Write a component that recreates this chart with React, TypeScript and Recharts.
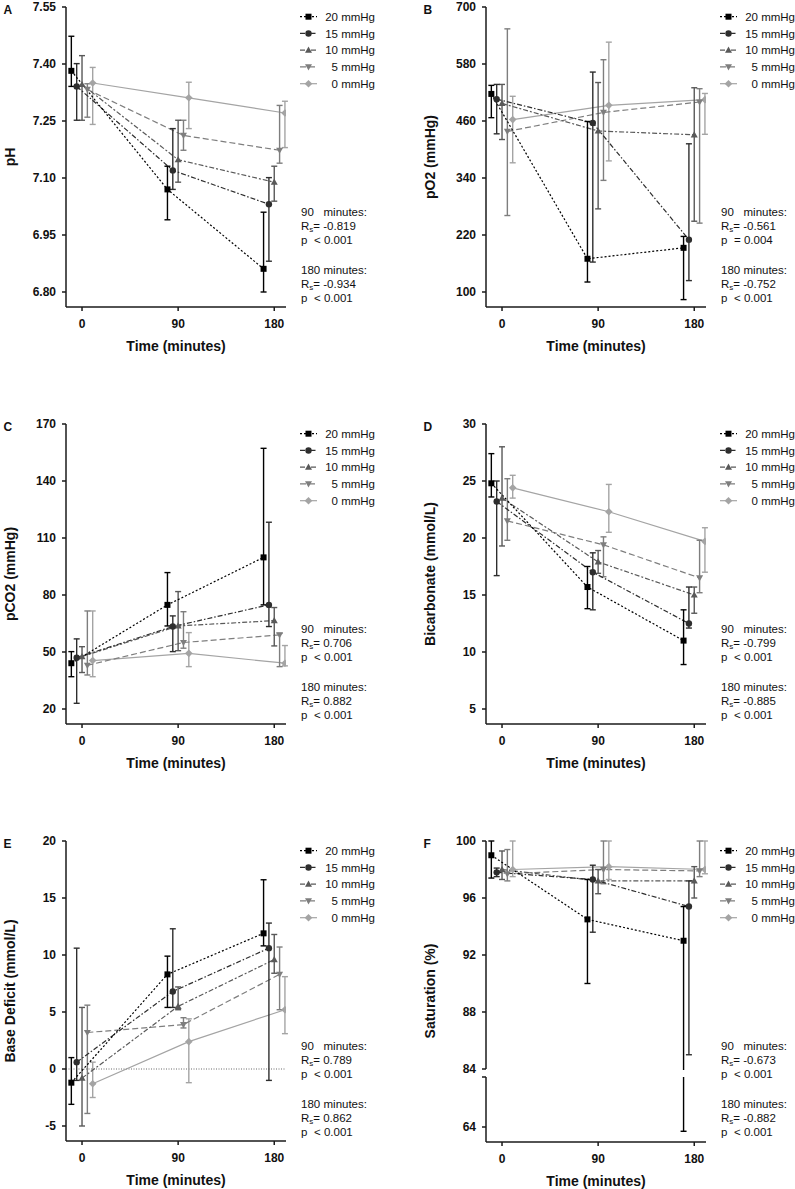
import React from 'react';
import { ComposedChart, Line, XAxis, YAxis, ErrorBar, ReferenceLine } from 'recharts';

const times = [0, 90, 180];
const groups = ['20 mmHg', '15 mmHg', '10 mmHg', '5 mmHg', '0 mmHg'];

// rows: 20, 15, 10, 5, 0 mmHg; columns: 0, 90, 180 minutes
const phMean = [
  [7.382, 7.07, 6.861],
  [7.341, 7.12, 7.031],
  [7.346, 7.148, 7.089],
  [7.333, 7.212, 7.173],
  [7.35, 7.311, 7.271],
];
const phLow = [
  [7.341, 6.99, 6.8],
  [7.252, 7.07, 6.881],
  [7.252, 7.089, 7.039],
  [7.26, 7.173, 7.139],
  [7.241, 7.23, 7.18],
];
const phHigh = [
  [7.473, 7.131, 7.01],
  [7.401, 7.23, 7.101],
  [7.422, 7.252, 7.131],
  [7.348, 7.252, 7.291],
  [7.391, 7.352, 7.302],
];

const po2Mean = [
  [517, 170, 193],
  [506, 456, 210],
  [497, 439, 431],
  [438, 478, 500],
  [463, 493, 505],
];
const po2Low = [
  [467, 121, 84],
  [433, 163, 124],
  [421, 275, 249],
  [261, 335, 245],
  [372, 376, 432],
];
const po2High = [
  [535, 459, 217],
  [537, 563, 412],
  [537, 541, 530],
  [654, 589, 528],
  [512, 626, 518],
];

const pco2Mean = [
  [44.1, 74.8, 99.8],
  [47.0, 63.4, 74.8],
  [47.6, 63.7, 66.5],
  [43.0, 55.0, 59.0],
  [45.5, 49.3, 44.1],
];
const pco2Low = [
  [37.0, 63.7, 74.8],
  [23.0, 50.2, 63.4],
  [39.2, 50.7, 53.2],
  [37.9, 52.0, 42.3],
  [37.0, 42.3, 42.7],
];
const pco2High = [
  [50.2, 91.8, 157.2],
  [56.9, 69.0, 118.3],
  [52.8, 81.8, 73.4],
  [71.6, 71.2, 59.8],
  [71.6, 60.2, 53.4],
];

const bicMean = [
  [24.8, 15.7, 11.0],
  [23.2, 17.0, 12.5],
  [23.5, 17.9, 15.0],
  [21.5, 19.4, 16.5],
  [24.4, 22.3, 19.7],
];
const bicLow = [
  [23.6, 13.8, 8.9],
  [16.7, 13.7, 12.1],
  [19.3, 16.9, 13.4],
  [19.8, 16.6, 15.2],
  [23.5, 20.5, 17.0],
];
const bicHigh = [
  [27.4, 17.5, 13.7],
  [25.0, 18.7, 15.7],
  [28.0, 18.9, 15.7],
  [25.2, 20.1, 19.8],
  [25.5, 24.7, 20.9],
];

const bdMean = [
  [-1.2, 8.3, 11.9],
  [0.6, 6.8, 10.6],
  [-0.8, 5.5, 9.6],
  [3.2, 3.9, 8.3],
  [-1.3, 2.4, 5.2],
];
const bdLow = [
  [-3.1, 5.4, 10.8],
  [-1.0, 5.4, -1.0],
  [-5.0, 5.2, 8.4],
  [-3.9, 3.6, 5.2],
  [-2.5, -1.2, 3.1],
];
const bdHigh = [
  [1.0, 9.9, 16.6],
  [10.6, 12.3, 12.8],
  [5.4, 7.2, 11.8],
  [5.6, 4.5, 10.7],
  [0.6, 4.4, 8.1],
];

const satMean = [
  [99.0, 94.5, 93.0],
  [97.8, 97.3, 95.4],
  [98.0, 97.2, 97.2],
  [97.7, 98.0, 97.9],
  [98.0, 98.2, 98.0],
];
const satLow = [
  [97.4, 90.0, 63.7],
  [97.5, 93.6, 85.0],
  [97.3, 96.3, 96.0],
  [97.2, 97.0, 97.5],
  [97.5, 97.3, 97.7],
];
const satHigh = [
  [100, 97.3, 95.4],
  [98.1, 98.3, 97.2],
  [99.3, 98.0, 98.2],
  [99.4, 100, 100],
  [100, 100, 100],
];

const phTicks = [6.8, 6.95, 7.1, 7.25, 7.4, 7.55];
const po2Ticks = [100, 220, 340, 460, 580, 700];
const pco2Ticks = [20, 50, 80, 110, 140, 170];
const bicTicks = [5, 10, 15, 20, 25, 30];
const bdTicks = [-5, 0, 5, 10, 15, 20];
const satTicks = [84, 88, 92, 96, 100];
const satLowTicks = [64];

const letters = ['A', 'B', 'C', 'D', 'E', 'F'];
const yTitles = ['pH', 'pO2 (mmHg)', 'pCO2 (mmHg)', 'Bicarbonate (mmol/L)', 'Base Deficit (mmol/L)', 'Saturation (%)'];
const rs90 = ['-0.819', '-0.561', '0.706', '-0.799', '0.789', '-0.673'];
const p90 = ['< 0.001', '= 0.004', '< 0.001', '< 0.001', '< 0.001', '< 0.001'];
const rs180 = ['-0.934', '-0.752', '0.882', '-0.885', '0.862', '-0.882'];
const p180 = ['< 0.001', '< 0.001', '< 0.001', '< 0.001', '< 0.001', '< 0.001'];

// layout / style
const FONT = '"Liberation Sans", Arial, Helvetica, sans-serif';
const COL = [0, 420];
const ROW = [2, 419, 836];
const AXIS_X = 66;
const PLOT_W = 220;
const PLOT_H = 300;
const TOP_PAD = 10; // room above the plot for the top tick label
const X_DOMAIN = [-15, 191];
const jitter = [-10, -5, 0, 5, 10];
const INK = '#1a1a1a';

const seriesStyle = [
  { color: '#000000', dash: '2 2', shape: 'square' },
  { color: '#2e2e2e', dash: '5 2 1.5 2', shape: 'circle' },
  { color: '#595959', dash: '5 2 2 2', shape: 'triangle' },
  { color: '#7e7e7e', dash: '6 3', shape: 'triangleDown' },
  { color: '#a4a4a4', dash: undefined, shape: 'diamond' },
];
const drawOrder = [4, 3, 2, 1, 0];

type Pt = { x: number; y: number; err: number[] };

const build = (mean: number[][], low: number[][], high: number[][]): Pt[][] =>
  mean.map((row, g) =>
    row.map((m, i) => ({ x: times[i] + jitter[g], y: m, err: [m - low[g][i], high[g][i] - m] }))
  );

const Marker = ({ cx, cy, shape, color }: { cx?: number; cy?: number; shape: string; color: string }) => {
  if (cx == null || cy == null) return null;
  if (shape === 'square') return <rect x={cx - 3} y={cy - 3} width={6} height={6} fill={color} />;
  if (shape === 'circle') return <circle cx={cx} cy={cy} r={3.2} fill={color} />;
  if (shape === 'triangle')
    return <path d={`M${cx},${cy - 3.6}L${cx + 3.5},${cy + 2.6}L${cx - 3.5},${cy + 2.6}Z`} fill={color} />;
  if (shape === 'triangleDown')
    return <path d={`M${cx},${cy + 3.6}L${cx + 3.5},${cy - 2.6}L${cx - 3.5},${cy - 2.6}Z`} fill={color} />;
  return <path d={`M${cx},${cy - 3.8}L${cx + 3.8},${cy}L${cx},${cy + 3.8}L${cx - 3.8},${cy}Z`} fill={color} />;
};

const tickStyle = { fontSize: 12, fontWeight: 'bold', fill: '#111', fontFamily: FONT };
const axisStroke = { stroke: INK, strokeWidth: 1.5 };

type ChartProps = {
  series: Pt[][];
  domain: number[];
  ticks: number[];
  fmt?: (v: number) => string;
  plotH: number;
  marginTop?: number;
  marginBottom?: number;
  showX?: boolean;
  zeroLine?: boolean;
};

const Chart = ({
  series, domain, ticks, fmt, plotH, marginTop = TOP_PAD, marginBottom = 0, showX = true, zeroLine = false,
}: ChartProps) => {
  const xH = showX ? 50 : 0;
  return (
    <ComposedChart
      width={400}
      height={marginTop + plotH + xH + marginBottom}
      margin={{ top: marginTop, right: 400 - AXIS_X - PLOT_W, bottom: marginBottom, left: 0 }}
    >
      <XAxis
        type="number"
        dataKey="x"
        domain={X_DOMAIN}
        ticks={times}
        interval={0}
        allowDataOverflow
        hide={!showX}
        height={50}
        tickSize={4}
        tickMargin={8}
        tick={tickStyle}
        axisLine={axisStroke}
        tickLine={axisStroke}
        label={{ value: 'Time (minutes)', position: 'insideBottom', offset: 6, fontSize: 14, fontWeight: 'bold', fill: '#111' }}
      />
      <YAxis
        type="number"
        domain={domain}
        ticks={ticks}
        interval={0}
        allowDataOverflow
        width={AXIS_X}
        tickSize={4}
        tickMargin={6}
        tickFormatter={fmt}
        tick={tickStyle}
        axisLine={axisStroke}
        tickLine={axisStroke}
      />
      {zeroLine && <ReferenceLine y={0} stroke="#444" strokeDasharray="1 1.5" strokeWidth={0.8} />}
      {drawOrder.map((g) => (
        <Line
          key={g}
          data={series[g]}
          dataKey="y"
          type="linear"
          stroke={seriesStyle[g].color}
          strokeWidth={1.2}
          strokeDasharray={seriesStyle[g].dash}
          dot={(p: any) => (
            <Marker key={`${g}-${p.index}`} cx={p.cx} cy={p.cy} shape={seriesStyle[g].shape} color={seriesStyle[g].color} />
          )}
          activeDot={false}
          isAnimationActive={false}
        >
          <ErrorBar dataKey="err" direction="y" width={3} stroke={seriesStyle[g].color} strokeWidth={1.4} isAnimationActive={false} />
        </Line>
      ))}
    </ComposedChart>
  );
};

const domainFrom = (ticks: number[]) => {
  const top = ticks[ticks.length - 1];
  const step = ticks[1] - ticks[0];
  return [top - (step * PLOT_H) / 57, top];
};

const panels = [
  { series: build(phMean, phLow, phHigh), ticks: phTicks, fmt: (v: number) => v.toFixed(2) },
  { series: build(po2Mean, po2Low, po2High), ticks: po2Ticks },
  { series: build(pco2Mean, pco2Low, pco2High), ticks: pco2Ticks },
  { series: build(bicMean, bicLow, bicHigh), ticks: bicTicks },
  { series: build(bdMean, bdLow, bdHigh), ticks: bdTicks, zeroLine: true },
];

const satSeries = build(satMean, satLow, satHigh);
// saturation axis is broken: 84..100 on top, a short segment round 64 below
const satTopDomain = [84, 100];
const satLowDomain = [64 - (15 * 4) / 57, 64 + (50 * 4) / 57];
const BREAK_TOP = ROW[2] + 5 + 228; // y of the 84 tick
const BREAK_BOTTOM = ROW[2] + 241; // top of the lower segment

const Overlay = () => (
  <svg
    width={795}
    height={1189}
    style={{ position: 'absolute', left: 0, top: 0, pointerEvents: 'none' }}
    fontFamily={FONT}
  >
    {/* gap of the axis break in panel F */}
    <rect x={COL[1] + AXIS_X + 2} y={BREAK_TOP + 1} width={PLOT_W} height={BREAK_BOTTOM - BREAK_TOP - 1} fill="#fff" />
    {letters.map((letter, k) => {
      const px = COL[k % 2];
      const py = ROW[Math.floor(k / 2)];
      return (
        <g key={letter} transform={`translate(${px},${py})`} fill="#111">
          <text x={3.5} y={11.5} fontSize={12} fontWeight="bold">
            {letter}
          </text>
          <text transform="translate(14.5,155) rotate(-90)" textAnchor="middle" fontSize={14} fontWeight="bold">
            {yTitles[k]}
          </text>
          {groups.map((name, g) => {
            const cy = 14.7 + g * 16.75;
            const st = seriesStyle[g];
            return (
              <g key={name}>
                <line x1={300} x2={317} y1={cy} y2={cy} stroke={st.color} strokeWidth={1.2} strokeDasharray={st.dash} />
                <Marker cx={308.5} cy={cy} shape={st.shape} color={st.color} />
                <text x={375} y={cy + 4.1} fontSize={11.5} textAnchor="end">
                  {name}
                </text>
              </g>
            );
          })}
          <g fontSize={11.5}>
            <text x={301} y={213.5}>90</text>
            <text x={323.5} y={213.5}>minutes:</text>
            <text x={301} y={227.5}>
              R<tspan fontSize={8} dy={2.5}>s</tspan>
              <tspan dy={-2.5}>{`= ${rs90[k]}`}</tspan>
            </text>
            <text x={301} y={241.5}>p</text>
            <text x={314} y={241.5}>{p90[k]}</text>
            <text x={301} y={271.5}>180</text>
            <text x={323.5} y={271.5}>minutes:</text>
            <text x={301} y={285.5}>
              R<tspan fontSize={8} dy={2.5}>s</tspan>
              <tspan dy={-2.5}>{`= ${rs180[k]}`}</tspan>
            </text>
            <text x={301} y={299.5}>p</text>
            <text x={314} y={299.5}>{p180[k]}</text>
          </g>
        </g>
      );
    })}
  </svg>
);

const App = () => {
  return (
    <div
      style={{ position: 'absolute', left: 0, top: 0, width: 795, height: 1189, background: '#fff', fontFamily: FONT, overflow: 'hidden' }}
    >
      {panels.map((p, k) => (
        <div key={k} style={{ position: 'absolute', left: COL[k % 2], top: ROW[Math.floor(k / 2)] + 5 - TOP_PAD }}>
          <Chart
            series={p.series}
            domain={domainFrom(p.ticks)}
            ticks={p.ticks}
            fmt={p.fmt}
            plotH={PLOT_H}
            zeroLine={!!p.zeroLine}
          />
        </div>
      ))}
      <div style={{ position: 'absolute', left: COL[1], top: ROW[2] + 5 - TOP_PAD }}>
        <Chart series={satSeries} domain={satTopDomain} ticks={satTicks} plotH={228} showX={false} marginBottom={7} />
      </div>
      <div style={{ position: 'absolute', left: COL[1], top: ROW[2] + 240 }}>
        <Chart
          series={satSeries}
          domain={satLowDomain}
          ticks={[...satLowTicks, satLowDomain[1]]}
          fmt={(v: number) => (v === satLowDomain[1] ? '' : String(v))}
          plotH={65}
          marginTop={1}
        />
      </div>
      <Overlay />
    </div>
  );
};

export default App;
